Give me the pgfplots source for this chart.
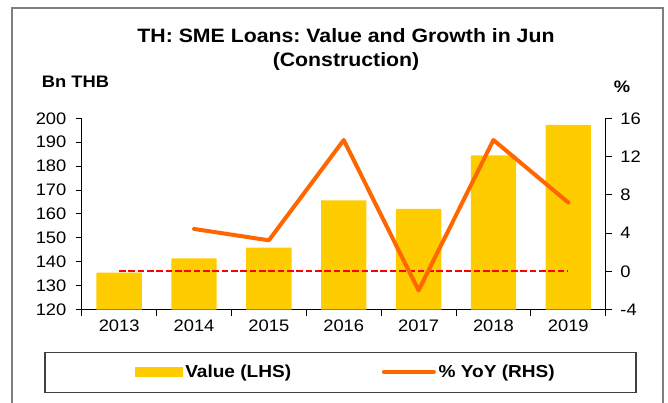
\documentclass[border=0pt]{standalone}
\usepackage{fontspec}
\setmainfont{Liberation Sans}[FakeStretch=1.1]
\usepackage{pgfplots}
\pgfplotsset{compat=1.18}
\definecolor{barcol}{HTML}{FFCC00}
\definecolor{linecol}{HTML}{FF6600}
\definecolor{framecol}{HTML}{7F7F7F}
\frenchspacing

\pgfplotsset{
  base/.style={
    at={(61.3pt,70.1pt)}, anchor=south west,
    scale only axis, width=393pt, height=143.4pt,
    xmin=-0.5, xmax=6.5,
    tick align=outside, major tick length=4.5pt,
    axis line style={line width=0.75pt},
    every tick/.style={black, line width=0.75pt},
    tick label style={font=\fontsize{12.5}{15}\selectfont},
    /pgf/number format/assume math mode=true,
  }
}

\begin{document}
\begin{tikzpicture}
\path[use as bounding box] (0,0) rectangle (501pt,302.25pt);
\draw[framecol, line width=1.1pt] (9pt,-5pt) -- (9pt,296.25pt) -- (497.25pt,296.25pt) -- (497.25pt,-5pt);

% values (LHS)
\begin{axis}[base,
    ymin=120, ymax=200, ytick={120,130,...,200},
    yticklabel style={xshift=-3.5pt},
    axis y line*=left, axis x line*=bottom,
    xtick={-0.5,0.5,1.5,2.5,3.5,4.5,5.5,6.5},
    x tick label as interval,
    xticklabels={2013,2014,2015,2016,2017,2018,2019},
    ybar, bar width=34pt,
    legend style={at={(0.1004,-0.3267)}, anchor=west, draw=none, fill=none,
      legend columns=2, inner sep=0pt, nodes={inner xsep=2pt},
      font=\fontsize{13}{15}\selectfont\bfseries,
      /tikz/every even column/.append style={column sep=66pt}},
  ]
  \addplot[fill=barcol, draw=none,
    legend image code/.code={\fill[barcol] (0pt,-4pt) rectangle (36pt,4pt);}]
    coordinates {(0,135.4) (1,141.4) (2,145.9) (3,165.7) (4,162.1) (5,184.5) (6,197.3)};
  \addlegendentry{Value (LHS)}
  \addlegendimage{linecol, line width=3pt,
    legend image code/.code={\draw[linecol, line width=3pt, line cap=round] (0pt,0pt) -- (37.5pt,0pt);}}
  \addlegendentry{\% YoY (RHS)}
\end{axis}

% growth (RHS)
\begin{axis}[base,
    ymin=-4, ymax=16, ytick={-4,0,...,16},
    yticklabel style={xshift=3pt},
    axis y line*=right, axis x line=none,
  ]
  \addplot[red, line width=1.5pt, dash pattern=on 5pt off 2pt]
    coordinates {(0,0) (6,0)};
  \addplot[linecol, line width=3pt, line join=round, line cap=round]
    coordinates {(1,4.43) (2,3.24) (3,13.73) (4,-2.0) (5,13.73) (6,7.19)};
\end{axis}

\node[anchor=base, inner sep=0pt, font=\fontsize{14.5}{17}\selectfont\bfseries]
  at (259.5pt,270.2pt) {TH: SME Loans: Value and Growth in Jun};
\node[anchor=base, inner sep=0pt, font=\fontsize{14.5}{17}\selectfont\bfseries]
  at (259.5pt,252.5pt) {(Construction)};
\node[anchor=base east, inner sep=0pt, font=\fontsize{12.5}{15}\selectfont\bfseries]
  at (82pt,236.5pt) {Bn THB};
\node[anchor=base, inner sep=0pt, font=\fontsize{12.5}{15}\selectfont\bfseries]
  at (466.5pt,232.5pt) {\%};

\draw[black!75, line width=0.8pt] (33.75pt,8pt) rectangle (477pt,38pt);
\end{tikzpicture}
\end{document}
